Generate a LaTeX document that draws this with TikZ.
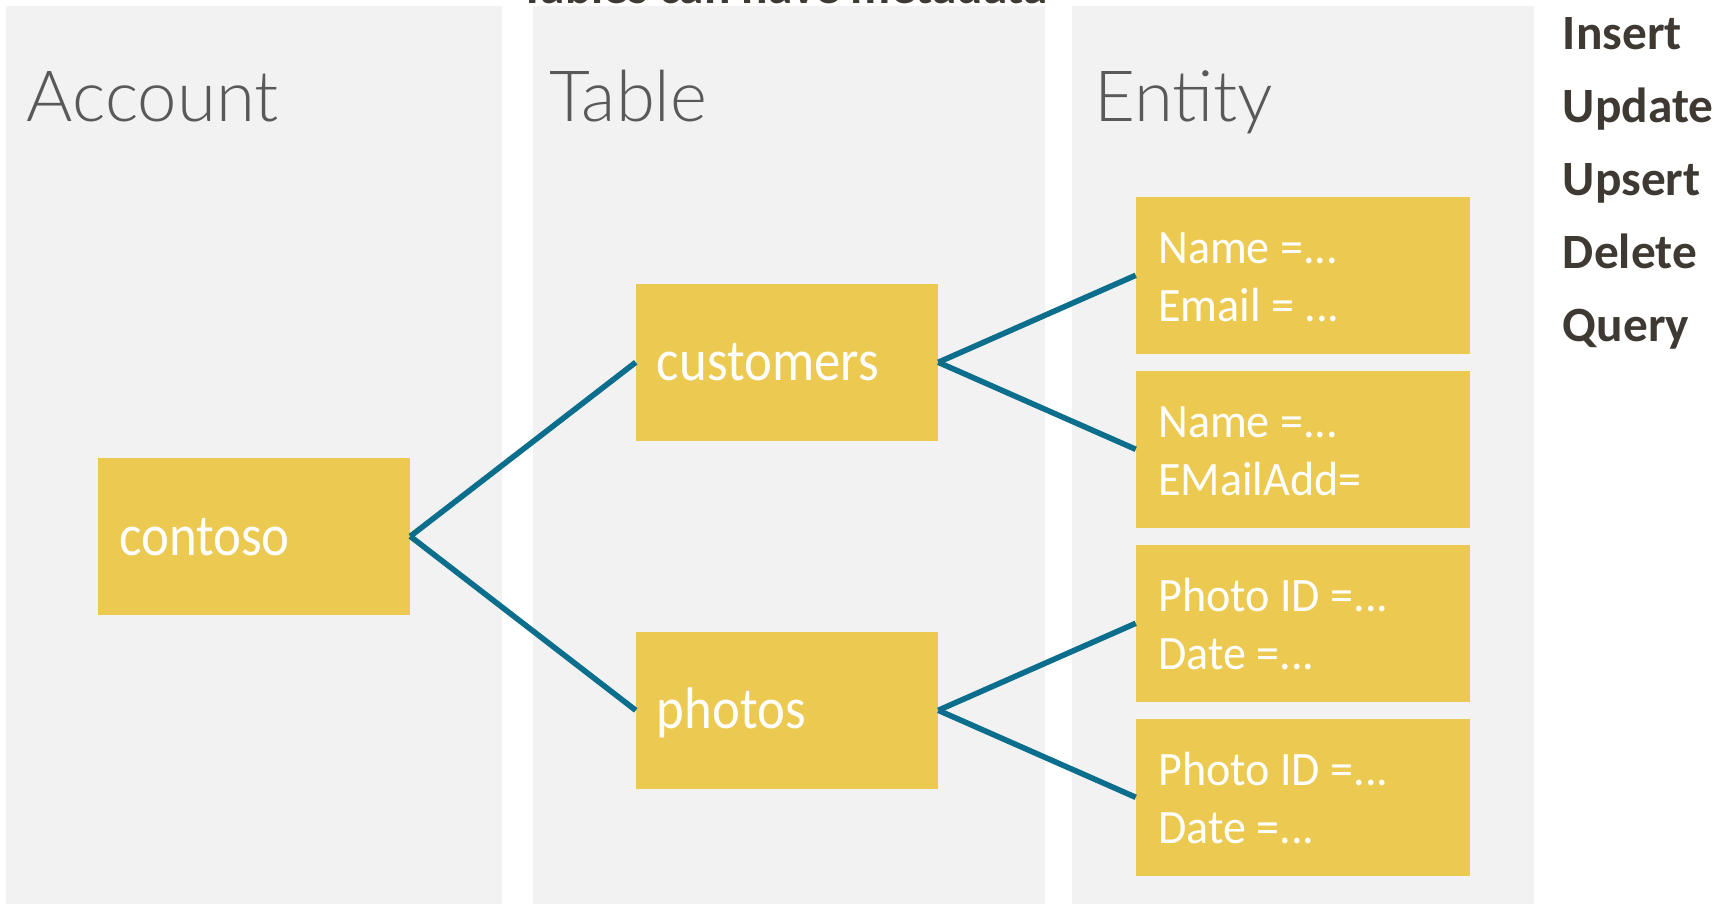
\documentclass[tikz,border=0pt]{standalone}
\usepackage{fontspec}
\setmainfont{Carlito}
\IfFontExistsTF{Lato Light}
  {\newfontfamily\headfont{Lato Light}\newcommand\headsize{\fontsize{53pt}{60pt}\selectfont}}
  {\newfontfamily\headfont{Carlito}\newcommand\headsize{\fontsize{58pt}{64pt}\selectfont}}
\newfontfamily\boxfont[FakeStretch=0.9]{Carlito}
\newfontfamily\fieldfont[FakeStretch=0.96]{Carlito}
\newfontfamily\listfont{Carlito}

\definecolor{panelgray}{HTML}{F2F2F2}
\definecolor{boxgold}{HTML}{ECC951}
\definecolor{linkteal}{HTML}{0C6E8D}
\definecolor{headgray}{HTML}{595959}
\definecolor{listdark}{HTML}{3E3A33}

% one drawing unit is one pixel of the 1729 x 904 canvas (0.75pt)
\tikzset{
  panel/.style={fill=panelgray, draw=none},
  box/.style={fill=boxgold, draw=none, rectangle, inner sep=0pt},
  accountbox/.style={box, minimum width=234pt, minimum height=117.5pt},
  tablebox/.style={box, minimum width=226.5pt, minimum height=117.5pt},
  entitybox/.style={box, minimum width=250.5pt, minimum height=117.5pt},
  link/.style={draw=linkteal, line width=4.2pt},
  heading/.style={anchor=base west, inner sep=0pt, text=headgray,
    font=\headfont\headsize},
  boxlabel/.style={anchor=base west, inner sep=0pt, text=white,
    font=\boxfont\fontsize{44pt}{50pt}\selectfont},
  field/.style={anchor=base west, inner sep=0pt, text=white,
    font=\fieldfont\fontsize{36pt}{42pt}\selectfont},
  verb/.style={anchor=base west, inner sep=0pt, text=listdark,
    font=\listfont\bfseries\fontsize{37pt}{44pt}\selectfont},
}

\begin{document}
\begin{tikzpicture}[x=0.75pt, y=-0.75pt]
\useasboundingbox (0,0) rectangle (1729,904);

% column backgrounds
\fill[panel] (5.5,6) rectangle (502,904);
\fill[panel] (532.6,6) rectangle (1045,904);
\fill[panel] (1072,6) rectangle (1534,904);

% caption above the table column, running off the top edge
\node[verb] (caption) at (520,3) {Tables can have metadata};

% column headings
\node[heading] (hAccount) at (26.7,121.7) {Account};
\node[heading] (hTable) at (549,121.7) {Table};
\node[heading] (hEntity) at (1094,121.7) {Entity};

% account
\node[accountbox] (contoso) at (254,536.3) {};
\node[boxlabel] (tContoso) at (119,555.7) {contoso};

% tables
\node[tablebox] (customers) at (787,362.3) {};
\node[boxlabel] (tCustomers) at (656.7,380.7) {customers};
\node[tablebox] (photos) at (787,710.3) {};
\node[boxlabel] (tPhotos) at (656.7,728.7) {photos};

% entities
\node[entitybox] (e1) at (1303,275.3) {};
\node[field] (e1a) at (1158,263) {Name =...};
\node[field] (e1b) at (1158,321.7) {Email = ...};

\node[entitybox] (e2) at (1303,449.3) {};
\node[field] (e2a) at (1158,437) {Name =...};
\node[field] (e2b) at (1158,495) {EMailAdd=};

\node[entitybox] (e3) at (1303,623.3) {};
\node[field] (e3a) at (1158,611) {Photo ID =...};
\node[field] (e3b) at (1158,669) {Date =...};

\node[entitybox] (e4) at (1303,797.3) {};
\node[field] (e4a) at (1158,785) {Photo ID =...};
\node[field] (e4b) at (1158,843) {Date =...};

% connectors
\draw[link] (contoso.east) -- (customers.west);
\draw[link] (contoso.east) -- (photos.west);
\draw[link] (customers.east) -- (e1.west);
\draw[link] (customers.east) -- (e2.west);
\draw[link] (photos.east) -- (e3.west);
\draw[link] (photos.east) -- (e4.west);

% operations
\node[verb] (opInsert) at (1562.7,49) {Insert};
\node[verb] (opUpdate) at (1562.7,122) {Update};
\node[verb] (opUpsert) at (1562.7,195) {Upsert};
\node[verb] (opDelete) at (1562.7,268) {Delete};
\node[verb] (opQuery) at (1562.7,341) {Query};
\end{tikzpicture}
\end{document}
